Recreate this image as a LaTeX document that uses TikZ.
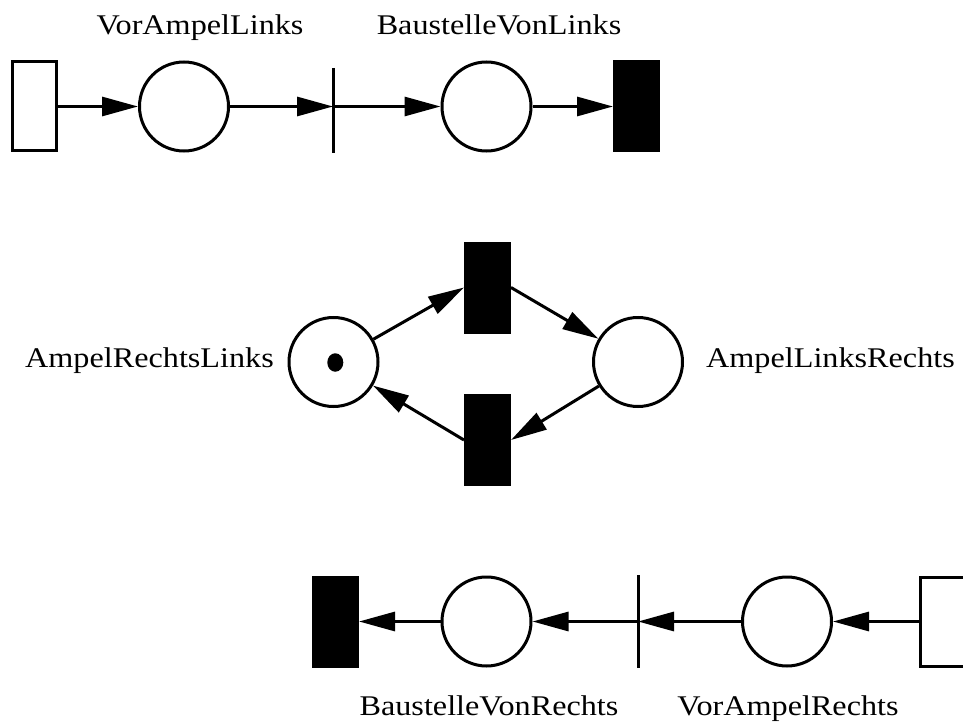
\documentclass[tikz,border=0pt]{standalone}
\usepackage{fontspec}
\setmainfont[FakeStretch=1.13]{Liberation Serif}
\usetikzlibrary{arrows.meta,shapes.geometric}
\begin{document}
\begin{tikzpicture}[x=1pt,y=-1pt,
  lw/.style={line width=3pt},
  place/.style={lw,draw,circle,minimum size=89pt,inner sep=0pt},
  srcbox/.style={lw,draw,fill=white,rectangle,minimum width=44pt,minimum height=89pt,inner sep=0pt},
  sinkbox/.style={lw,draw,fill=black,rectangle,minimum width=44pt,minimum height=89pt,inner sep=0pt},
  barnode/.style={rectangle,minimum width=0pt,inner sep=0pt,outer sep=0pt},
  arr/.style={lw,-{Triangle[length=36pt,width=19pt]}},
  lbl/.style={font=\fontsize{28.5}{30}\selectfont,anchor=base,inner sep=0pt}]
\useasboundingbox (0,0) rectangle (963,722);
% top row
\node[srcbox] (src1) at (34,106.5) {};
\node[place] (p1) at (184,106.5) {};
\node[barnode,minimum height=85pt] (t1) at (333,110.5) {};
\draw[lw] (t1.north) -- (t1.south);
\node[place] (p2) at (486.5,106.5) {};
\node[sinkbox] (k1) at (636.5,106.5) {};
\draw[arr] (src1) -- (p1);
\draw[arr] (p1) -- (p1 -| t1);
\draw[arr] (p1 -| t1) -- (p2);
\draw[arr] (p2) -- (k1);
\node[lbl] (l1) at (200,35) {VorAmpelLinks};
\node[lbl] (l2) at (499,35) {BaustelleVonLinks};
% middle
\node[place] (L) at (333.5,362) {};
\node[place] (R) at (638,362) {};
\node[sinkbox] (T) at (487.5,287.5) {};
\node[sinkbox] (B) at (487.5,440) {};
\node[fill=black,ellipse,minimum width=16pt,minimum height=18.5pt,inner sep=0pt] (tok) at (335.3,362.5) {};
\draw[arr] (L) -- (T.west);
\draw[arr] (T.east) -- (R);
\draw[arr] (R) -- (B.east);
\draw[arr] (B.west) -- (L);
\node[lbl] (l3) at (149.5,367) {AmpelRechtsLinks};
\node[lbl] (l4) at (830.5,367) {AmpelLinksRechts};
% bottom row
\node[sinkbox] (k2) at (335.5,621.5) {};
\node[place] (p3) at (486.5,621.5) {};
\node[barnode,minimum height=93pt] (t2) at (638,621.5) {};
\draw[lw] (t2.north) -- (t2.south);
\node[place] (p4) at (787,621.5) {};
\node[srcbox] (src2) at (942.5,621.5) {};
\draw[arr] (src2) -- (p4);
\draw[arr] (p4) -- (t2);
\draw[arr] (t2) -- (p3);
\draw[arr] (p3) -- (k2);
\node[lbl] (l5) at (489,715) {BaustelleVonRechts};
\node[lbl] (l6) at (788,715) {VorAmpelRechts};
\end{tikzpicture}
\end{document}
